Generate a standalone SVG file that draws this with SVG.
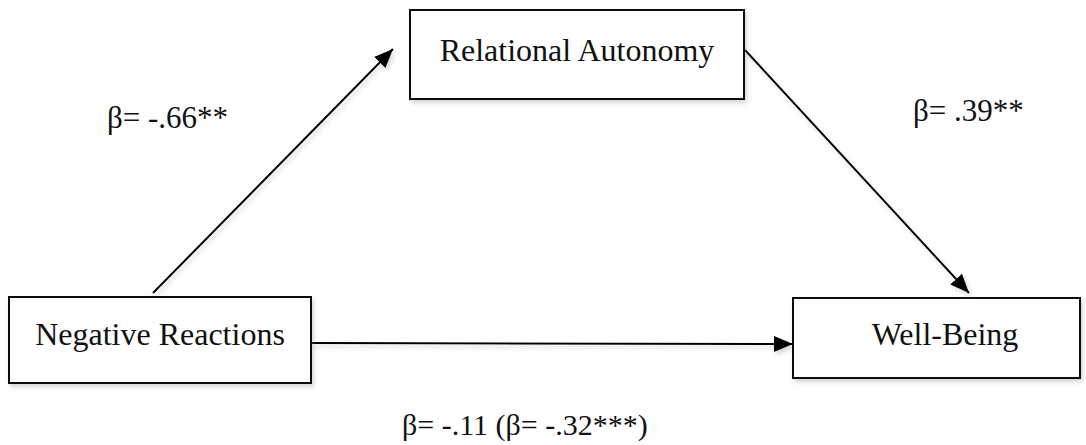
<svg xmlns="http://www.w3.org/2000/svg" width="1086" height="445" viewBox="0 0 1086 445">
  <style>
    .box { fill: #ffffff; stroke: #111111; stroke-width: 2; }
    .lbl { font-family: "Liberation Serif", "Times New Roman", serif; fill: #111111; }
    .edge { stroke: #000000; stroke-width: 2; fill: none; }
  </style>
  <defs>
    <filter id="sh" x="-10%" y="-10%" width="130%" height="130%">
      <feDropShadow dx="2" dy="3" stdDeviation="2" flood-color="#888888" flood-opacity="0.35"/>
    </filter>
    <marker id="arr" markerUnits="userSpaceOnUse" markerWidth="20" markerHeight="16" refX="19" refY="8" orient="auto">
      <path d="M0,0 L19,8 L0,16 Z" fill="#000000"/>
    </marker>
  </defs>
  <rect width="1086" height="445" fill="#ffffff"/>

  <g id="connectors" filter="url(#sh)">
    <line class="edge" x1="153" y1="293" x2="393" y2="49" marker-end="url(#arr)"/>
    <line class="edge" x1="745" y1="50" x2="969" y2="293" marker-end="url(#arr)"/>
    <line class="edge" x1="311" y1="343" x2="793" y2="344" marker-end="url(#arr)"/>
  </g>

  <g id="node-relational-autonomy">
    <rect class="box" x="410" y="10" width="334" height="89" filter="url(#sh)"/>
    <text class="lbl" x="577" y="61" text-anchor="middle" font-size="32">Relational Autonomy</text>
  </g>

  <g id="node-negative-reactions">
    <rect class="box" x="9" y="297" width="302" height="86" filter="url(#sh)"/>
    <text class="lbl" x="160" y="345" text-anchor="middle" font-size="32">Negative Reactions</text>
  </g>

  <g id="node-well-being">
    <rect class="box" x="793" y="298" width="287" height="80" filter="url(#sh)"/>
    <text class="lbl" x="945" y="345" text-anchor="middle" font-size="32">Well-Being</text>
  </g>

  <g id="labels">
    <text class="lbl" x="107" y="128" font-size="31">β= -.66**</text>
    <text class="lbl" x="913" y="121" font-size="31">β= .39**</text>
    <text class="lbl" x="402" y="435" font-size="30">β= -.11 (β= -.32***)</text>
  </g>
</svg>
